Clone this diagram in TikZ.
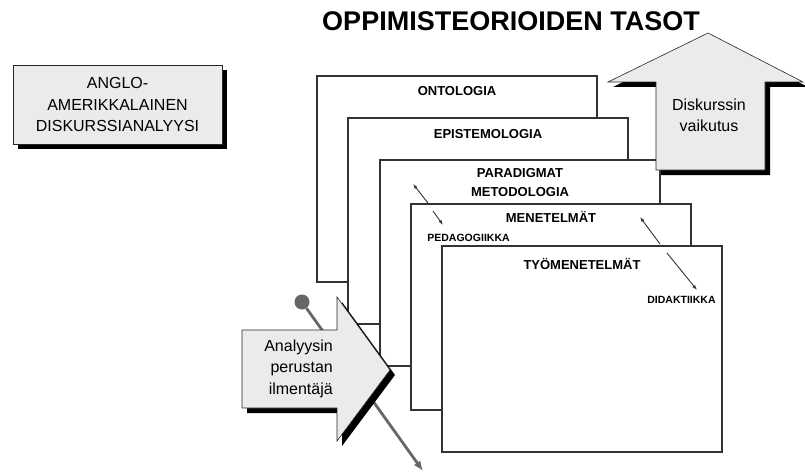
\documentclass[tikz,border=0pt]{standalone}
\usepackage{fontspec}
\setmainfont{Liberation Sans}
\usepackage{tikz}
\usetikzlibrary{arrows.meta,positioning,shadows}

\begin{document}
\begin{tikzpicture}[
  x=1pt, y=-1pt,
  font=\fontsize{16}{21.5}\selectfont,
  levelbox/.style={draw=black!80, line width=1.6pt, fill=white, minimum width=280pt, minimum height=206pt, inner sep=0pt},
  levellabel/.style={font=\fontsize{13}{19}\selectfont\bfseries, inner sep=0pt, align=center},
  sidelabel/.style={font=\fontsize{10.5}{12}\selectfont\bfseries, inner sep=0pt},
  link/.style={{Latex[length=5pt,width=3.5pt]}-, line width=0.9pt, draw=black!80},
  callout/.style={draw=black!85, line width=0.6pt, fill=black!8, drop shadow={shadow xshift=5pt, shadow yshift=-5pt, fill=black, opacity=1}},
  probe/.style={-{Latex[length=10pt,width=8pt]}, line width=2.8pt, draw=black!60}
]
\useasboundingbox (0,0) rectangle (805,476);

% vasen laatikko
\node[callout, minimum width=209pt, minimum height=79pt, align=center] (school) at (117.5,104.5) {ANGLO-\\AMERIKKALAINEN\\DISKURSSIANALYYSI};

% tasot
\node[levelbox] (onto) at (457,179) {};
\node[levellabel, anchor=base] at ([yshift=-20.7pt]onto.north) {ONTOLOGIA};
\node[levelbox] (episte) at (488,221) {};
\node[levellabel, anchor=base] at ([yshift=-21.7pt]episte.north) {EPISTEMOLOGIA};
\node[levelbox] (paradigm) at (520,263) {};
\node[levellabel, anchor=north] at ([yshift=-9.3pt]paradigm.north) {PARADIGMAT\\METODOLOGIA};
\node[levelbox] (method) at (551,307) {};
\node[levellabel, anchor=base] at ([yshift=-19.7pt]method.north) {MENETELMÄT};
\node[levelbox] (work) at (582,349) {};
\node[levellabel, anchor=base] at ([yshift=-24.7pt]work.north) {TYÖMENETELMÄT};

\node[sidelabel, anchor=west] (peda) at ([xshift=17pt,yshift=-35pt]method.north west) {PEDAGOGIIKKA};
\node[sidelabel, anchor=east] (dida) at ([xshift=-7pt,yshift=-55pt]work.north east) {DIDAKTIIKKA};

\coordinate (pedaup) at (413,184);
\coordinate (pedaupfoot) at (428,203);
\coordinate (pedadownfoot) at (433,211);
\coordinate (pedadown) at (443,225);
\draw[link] (pedaup) -- (pedaupfoot);
\draw[link] (pedadown) -- (pedadownfoot);

\coordinate (didaup) at (640,217);
\coordinate (didaupfoot) at (660,244);
\coordinate (didadownfoot) at (667,253);
\coordinate (didadown) at (697,290);
\draw[link] (didaup) -- (didaupfoot);
\draw[link] (didadown) -- (didadownfoot);

% analyysin suunta
\node[circle, fill=black!60, minimum size=15pt, inner sep=0pt] (probeball) at (302,302) {};
\coordinate (probeend) at (423,471);
\draw[probe] (probeball) -- (probeend);

\path[callout] (242,330) -- (337,330) -- (337,297) -- (390,370) -- (337,441) -- (337,408) -- (242,408) -- cycle;
\node[align=right, anchor=east, inner sep=0pt] (basis) at (333,368.5) {Analyysin\\perustan\\ilmentäjä};

\path[callout] (656,170) -- (656,82) -- (608,82) -- (708,33) -- (803,82) -- (765,82) -- (765,170) -- cycle;
\node[align=center, inner sep=0pt] (impact) at (709,115.5) {Diskurssin\\vaikutus};

\node[font=\fontsize{27}{30}\selectfont\bfseries] (title) at (511,21) {OPPIMISTEORIOIDEN TASOT};
\end{tikzpicture}
\end{document}
